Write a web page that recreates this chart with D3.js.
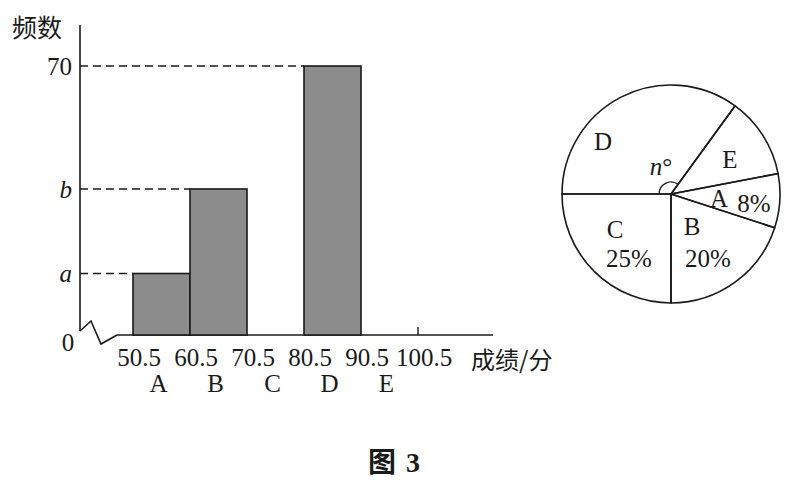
<!DOCTYPE html>
<html><head><meta charset="utf-8">
<script src="https://cdn.jsdelivr.net/npm/d3@7"></script>
<style>html,body{margin:0;padding:0;background:#fff;}svg{display:block;}</style>
</head><body>
<script>
// ---- data ----
const binEdges = [50.5, 60.5, 70.5, 80.5, 90.5, 100.5];
const categories = ["A", "B", "C", "D", "E"];
const freqValues = [16, 38, 0, 70, 0];          // a≈16, b≈38 (drawn), D = 70
const yTickValues = [16, 38, 70];
const yTickLabels = ["a", "b", "70"];
const pieCategories = ["E", "A", "B", "C", "D"];
const piePercents = [12, 8, 20, 25, 35];
const pieLabels = {A: "8%", B: "20%", C: "25%"};

const W = 800, H = 483;
const svg = d3.select("body").append("svg").attr("width", W).attr("height", H);
const serif = "'Liberation Serif','Times New Roman',serif";
const cjk = "'Noto Sans CJK SC','Noto Sans CJK JP',sans-serif";
const ink = "#1a1a1a";
const FS = 25;

const x = d3.scaleLinear().domain([50.5, 100.5]).range([133, 418]);
const y = d3.scaleLinear().domain([0, 70]).range([335, 66]);
const axisX = 80;

// y axis labels (d3 axis, no ticks)
const yAxis = d3.axisLeft(y).tickValues(yTickValues)
  .tickFormat((d, i) => yTickLabels[i]).tickSize(0).tickPadding(8);
const gy = svg.append("g").attr("transform", `translate(${axisX},0)`).call(yAxis);
gy.select(".domain").remove();
gy.selectAll("text").attr("font-family", serif).attr("font-size", FS).attr("fill", ink)
  .attr("font-style", (d, i) => i < 2 ? "italic" : "normal").attr("dy", "0.33em");
svg.append("line").attr("x1", axisX).attr("x2", axisX).attr("y1", 25).attr("y2", 331)
  .attr("stroke", ink).attr("stroke-width", 1.6);

// zigzag break
svg.append("path").attr("d", `M${axisX},331 L91,321 L101,344 L117,${y(0)}`)
  .attr("fill", "none").attr("stroke", ink).attr("stroke-width", 1.6);

// x axis line
svg.append("line").attr("x1", 117).attr("x2", 493).attr("y1", y(0)).attr("y2", y(0))
  .attr("stroke", ink).attr("stroke-width", 1.6);
// tick at 100.5
svg.append("line").attr("x1", x(100.5)).attr("x2", x(100.5)).attr("y1", y(0)).attr("y2", y(0) - 8)
  .attr("stroke", ink).attr("stroke-width", 1.4);

// dashed guide lines
const barData = categories.map((c, i) => ({c, x0: binEdges[i], x1: binEdges[i + 1], v: freqValues[i]}));
barData.filter(d => d.v > 0).forEach(d => {
  svg.append("line").attr("x1", axisX).attr("x2", x(d.x0)).attr("y1", y(d.v)).attr("y2", y(d.v))
    .attr("stroke", ink).attr("stroke-width", 1.5).attr("stroke-dasharray", "8,5");
});

// bars
svg.append("g").selectAll("rect").data(barData.filter(d => d.v > 0)).join("rect")
  .attr("x", d => x(d.x0)).attr("width", d => x(d.x1) - x(d.x0))
  .attr("y", d => y(d.v)).attr("height", d => y(0) - y(d.v))
  .attr("fill", "#8c8c8c").attr("stroke", ink).attr("stroke-width", 1.6);

// x tick labels
svg.append("g").selectAll("text").data(binEdges).join("text")
  .attr("x", d => x(d) + 6).attr("y", 366).attr("text-anchor", "middle")
  .attr("font-family", serif).attr("font-size", FS).attr("fill", ink).text(d => d.toFixed(1));
// category letters
svg.append("g").selectAll("text").data(barData).join("text")
  .attr("x", d => x((d.x0 + d.x1) / 2) - 3).attr("y", 392).attr("text-anchor", "middle")
  .attr("font-family", serif).attr("font-size", FS).attr("fill", ink).text(d => d.c);

// zero label
svg.append("text").attr("x", 68).attr("y", 351).attr("text-anchor", "middle")
  .attr("font-family", serif).attr("font-size", FS).attr("fill", ink).text("0");

// axis titles
svg.append("text").attr("x", 12).attr("y", 37).attr("font-family", cjk).attr("font-size", 25)
  .attr("fill", ink).text("频数");
svg.append("text").attr("x", 471).attr("y", 369).attr("font-family", cjk).attr("font-size", 24)
  .attr("fill", ink).text("成绩/分");

// ---- pie ----
const cx = 671, cy = 194, R = 109;
const toRad = Math.PI / 180;
const pie = d3.pie().sort(null).value(d => d.v).startAngle(36 * toRad).endAngle(396 * toRad);
const arcs = pie(pieCategories.map((c, i) => ({c, v: piePercents[i]})));
const arc = d3.arc().innerRadius(0).outerRadius(R);
const gp = svg.append("g").attr("transform", `translate(${cx},${cy})`);
gp.selectAll("path").data(arcs).join("path").attr("d", arc)
  .attr("fill", "none").attr("stroke", ink).attr("stroke-width", 1.6);

// n° angle arc on D slice
const dArc = arcs.find(a => a.data.c === "D");
gp.append("path").attr("d", d3.arc().innerRadius(12).outerRadius(12)
  .startAngle(dArc.startAngle).endAngle(dArc.endAngle)())
  .attr("fill", "none").attr("stroke", ink).attr("stroke-width", 1.4);

const pieLabelPos = {D: [603, 150], E: [730, 168], A: [719, 207], B: [692, 235], C: [615, 238]};
arcs.forEach(a => {
  const p = pieLabelPos[a.data.c];
  svg.append("text").attr("x", p[0]).attr("y", p[1]).attr("text-anchor", "middle")
    .attr("font-family", serif).attr("font-size", FS).attr("fill", ink).text(a.data.c);
});
svg.append("text").attr("x", 754).attr("y", 212).attr("text-anchor", "middle")
  .attr("font-family", serif).attr("font-size", FS).attr("fill", ink).text(pieLabels.A);
svg.append("text").attr("x", 708).attr("y", 267).attr("text-anchor", "middle")
  .attr("font-family", serif).attr("font-size", FS).attr("fill", ink).text(pieLabels.B);
svg.append("text").attr("x", 629).attr("y", 267).attr("text-anchor", "middle")
  .attr("font-family", serif).attr("font-size", FS).attr("fill", ink).text(pieLabels.C);
const nt = svg.append("text").attr("x", 661).attr("y", 175).attr("text-anchor", "middle")
  .attr("font-family", serif).attr("font-size", FS).attr("fill", ink);
nt.append("tspan").attr("font-style", "italic").text("n");
nt.append("tspan").text("°");

// caption
const cap = svg.append("text").attr("x", 394).attr("y", 472).attr("text-anchor", "middle")
  .attr("font-weight", "bold").attr("font-size", 28).attr("fill", ink);
cap.append("tspan").attr("font-family", cjk).text("图");
cap.append("tspan").attr("font-family", serif).attr("dx", 10).text("3");
</script>
</body></html>
